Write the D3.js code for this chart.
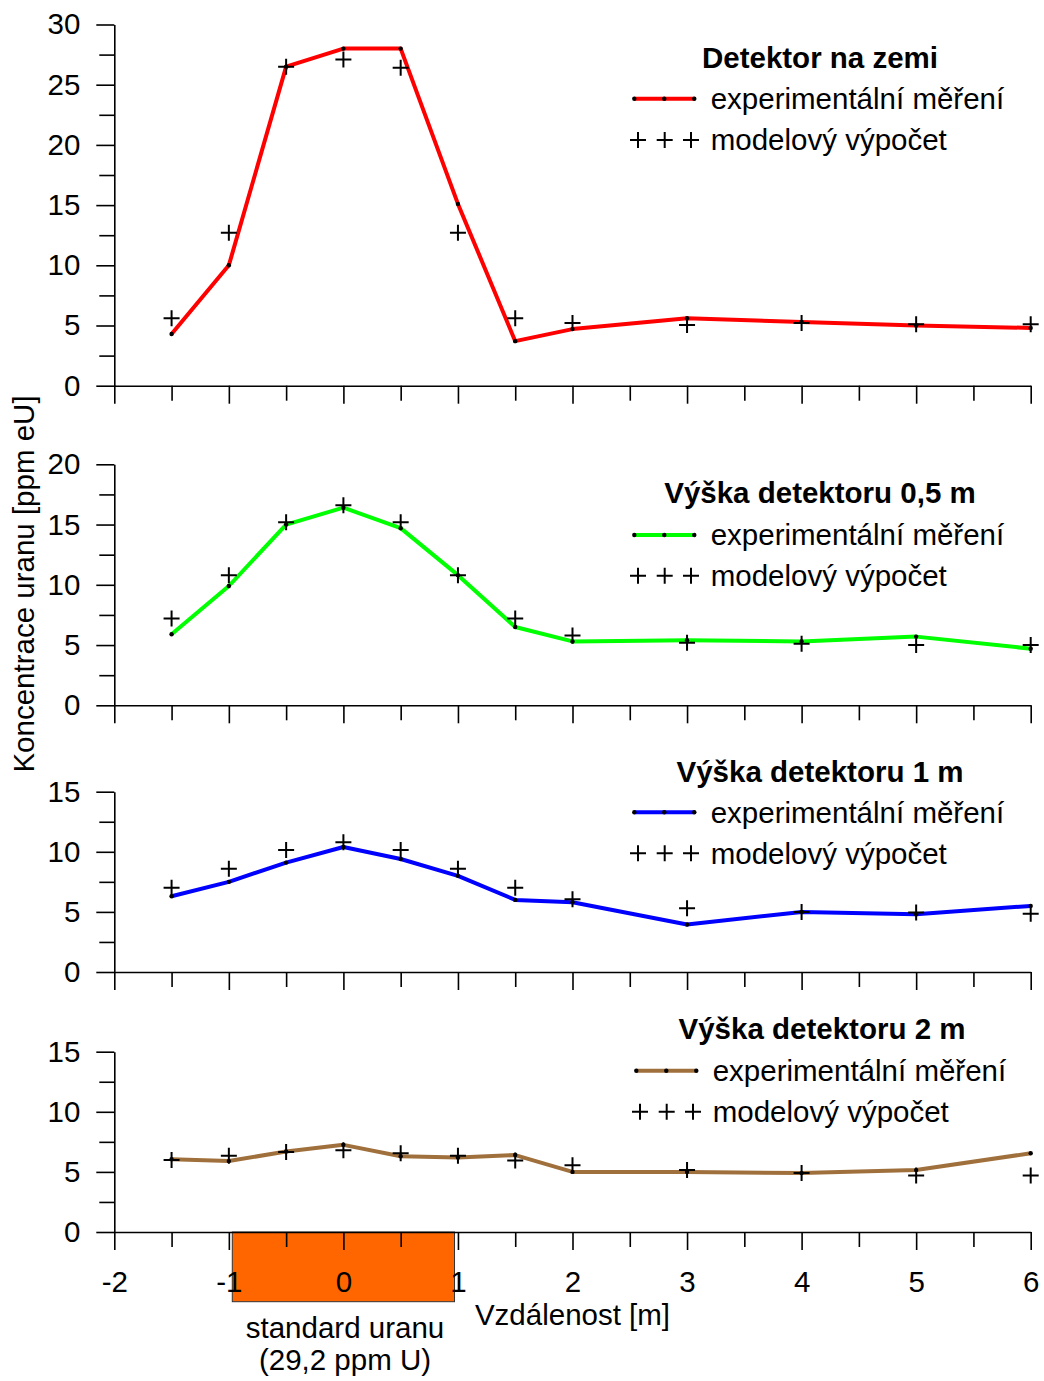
<!DOCTYPE html>
<html>
<head>
<meta charset="utf-8">
<script src="https://cdn.jsdelivr.net/npm/d3@7"></script>
<style>
  body { margin: 0; background: #fff; }
  svg text { font-family: "Liberation Sans", Arial, sans-serif; fill: #000; }
</style>
</head>
<body>
<svg id="chart" width="1044" height="1381"></svg>
<script>
// Distance of the detector from the centre of the uranium standard [m]
const distances = [-1.5, -1, -0.5, 0, 0.5, 1, 1.5, 2, 3, 4, 5, 6];

// Detector on the ground
const measuredGround = [4.3, 10.0, 26.5, 28.0, 28.0, 15.1, 3.7, 4.7, 5.6, 5.3, 5.0, 4.8];
const modelGround    = [5.6, 12.7, 26.5, 27.1, 26.4, 12.7, 5.6, 5.2, 5.05, 5.2, 5.1, 5.1];

// Detector height 0.5 m
const measured05 = [5.9, 9.9, 15.0, 16.4, 14.7, 10.8, 6.5, 5.3, 5.4, 5.3, 5.7, 4.7];
const model05    = [7.2, 10.8, 15.2, 16.6, 15.2, 10.8, 7.2, 5.8, 5.2, 5.1, 5.0, 5.0];

// Detector height 1 m
const measured1 = [6.3, 7.5, 9.1, 10.4, 9.4, 8.0, 6.0, 5.8, 3.95, 5.0, 4.8, 5.5];
const model1    = [7.0, 8.6, 10.15, 10.8, 10.15, 8.6, 7.0, 6.05, 5.3, 5.0, 4.95, 4.85];

// Detector height 2 m
const measured2 = [6.05, 5.9, 6.7, 7.25, 6.3, 6.2, 6.4, 5.0, 5.0, 4.9, 5.15, 6.55];
const model2    = [6.0, 6.35, 6.65, 6.8, 6.55, 6.35, 5.95, 5.55, 5.15, 4.9, 4.7, 4.7];

const panelTitles = ["Detektor na zemi", "Výška detektoru 0,5 m", "Výška detektoru 1 m", "Výška detektoru 2 m"];
const panelYMax = [30, 20, 15, 15];
const xTickValues = [-2, -1, 0, 1, 2, 3, 4, 5, 6];
const seriesLabels = ["experimentální měření", "modelový výpočet"];
const standardExtent = [-0.97, 0.97];
const standardLabel = ["standard uranu", "(29,2 ppm U)"];
const xAxisTitle = "Vzdálenost [m]";
const yAxisTitle = "Koncentrace uranu [ppm eU]";

// Series per panel
const measuredSeries = [measuredGround, measured05, measured1, measured2];
const modelSeries = [modelGround, model05, model1, model2];

// Panel geometry and styling
const panelLayout = [
  { bottom: 385.7, top: 24.5,   color: "#ff0000", titleY: 67.7,   lineY: 98.7,   plusY: 140,   dx: 0 },
  { bottom: 705.3, top: 464.3,  color: "#00ff00", titleY: 503.3,  lineY: 535,    plusY: 575.7, dx: 0 },
  { bottom: 972,   top: 791.7,  color: "#0000ff", titleY: 781.7,  lineY: 812.3,  plusY: 853.3, dx: 0 },
  { bottom: 1232,  top: 1051.7, color: "#a0703c", titleY: 1039.3, lineY: 1070.7, plusY: 1111.7, dx: 2 }
];

const svg = d3.select("#chart");
const x = d3.scaleLinear().domain([-2, 6]).range([114.3, 1030.7]);
const FS = 29.5;
const plusPath = "M-8,0H8M0,-8V8";

function styleAxis(g) {
  g.selectAll("path.domain").attr("stroke", "#000").attr("stroke-width", 1.6);
  g.selectAll(".tick line").attr("stroke", "#000").attr("stroke-width", 1.6);
  g.selectAll(".tick text").style("font-size", FS + "px").attr("fill", "#000");
}

panelLayout.forEach((p, i) => {
  const y = d3.scaleLinear().domain([0, panelYMax[i]]).range([p.bottom, p.top]);
  const g = svg.append("g");
  const isLast = i === panelLayout.length - 1;

  // uranium standard block under the last axis
  if (isLast) {
    g.append("rect")
      .attr("x", x(standardExtent[0]))
      .attr("y", p.bottom)
      .attr("width", x(standardExtent[1]) - x(standardExtent[0]))
      .attr("height", 69.7)
      .attr("fill", "#ff6600")
      .attr("stroke", "#333")
      .attr("stroke-width", 1);
  }

  // x axis: major ticks at whole metres, minor at half metres
  const xMinor = d3.range(-1.5, 6, 1);
  const gxMinor = g.append("g").attr("transform", `translate(0,${p.bottom})`)
    .call(d3.axisBottom(x).tickValues(xMinor).tickSize(15).tickSizeOuter(0).tickFormat(""));
  gxMinor.select("path.domain").remove();
  styleAxis(gxMinor);
  const gx = g.append("g").attr("transform", `translate(0,${p.bottom})`)
    .call(d3.axisBottom(x).tickValues(xTickValues).tickSize(18).tickSizeOuter(0).tickPadding(21)
      .tickFormat(d => isLast ? d3.format("d")(d).replace("−", "-") : ""));
  styleAxis(gx);

  // y axis: major every 5, minor every 2.5
  const majors = d3.range(0, panelYMax[i] + 0.01, 5);
  const minors = d3.range(2.5, panelYMax[i], 5);
  const gyMinor = g.append("g").attr("transform", `translate(${x(-2)},0)`)
    .call(d3.axisLeft(y).tickValues(minors).tickSize(15).tickSizeOuter(0).tickFormat(""));
  gyMinor.select("path.domain").remove();
  styleAxis(gyMinor);
  const gy = g.append("g").attr("transform", `translate(${x(-2)},0)`)
    .call(d3.axisLeft(y).tickValues(majors).tickSize(18).tickSizeOuter(0).tickPadding(16));
  styleAxis(gy);

  // measured profile
  const pts = distances.map((d, k) => [d, measuredSeries[i][k]]);
  g.append("path")
    .datum(pts)
    .attr("fill", "none")
    .attr("stroke", p.color)
    .attr("stroke-width", 4)
    .attr("stroke-linejoin", "round")
    .attr("d", d3.line().x(d => x(d[0])).y(d => y(d[1])));

  // model calculation markers
  g.selectAll("path.model")
    .data(distances.map((d, k) => [d, modelSeries[i][k]]))
    .join("path")
    .attr("class", "model")
    .attr("transform", d => `translate(${x(d[0])},${y(d[1])})`)
    .attr("d", plusPath)
    .attr("stroke", "#000")
    .attr("stroke-width", 2)
    .attr("fill", "none");

  // measured points
  g.selectAll("circle.meas")
    .data(pts)
    .join("circle")
    .attr("class", "meas")
    .attr("cx", d => x(d[0]))
    .attr("cy", d => y(d[1]))
    .attr("r", 2.2)
    .attr("fill", "#000");

  // legend
  const lg = g.append("g").attr("transform", `translate(${p.dx},0)`);
  lg.append("text")
    .attr("x", 820).attr("y", p.titleY)
    .attr("text-anchor", "middle")
    .style("font-size", FS + "px").style("font-weight", "bold")
    .text(panelTitles[i]);
  lg.append("line")
    .attr("x1", 634.3).attr("x2", 694.3)
    .attr("y1", p.lineY).attr("y2", p.lineY)
    .attr("stroke", p.color).attr("stroke-width", 4);
  lg.selectAll("circle.leg")
    .data([634.3, 664.3, 694.3])
    .join("circle")
    .attr("class", "leg")
    .attr("cx", d => d).attr("cy", p.lineY).attr("r", 2.2).attr("fill", "#000");
  lg.append("text")
    .attr("x", 710.7).attr("y", p.lineY).attr("dy", "0.35em")
    .style("font-size", FS + "px")
    .text(seriesLabels[0]);
  lg.selectAll("path.leg")
    .data([638, 664.7, 691])
    .join("path")
    .attr("class", "leg")
    .attr("transform", d => `translate(${d},${p.plusY})`)
    .attr("d", plusPath)
    .attr("stroke", "#000").attr("stroke-width", 2);
  lg.append("text")
    .attr("x", 710.7).attr("y", p.plusY).attr("dy", "0.35em")
    .style("font-size", FS + "px")
    .text(seriesLabels[1]);
});

// axis titles
svg.append("text")
  .attr("x", x(2)).attr("y", 1325)
  .attr("text-anchor", "middle")
  .style("font-size", FS + "px")
  .text(xAxisTitle);

svg.append("text")
  .attr("transform", "translate(34,584) rotate(-90)")
  .attr("text-anchor", "middle")
  .style("font-size", FS + "px")
  .text(yAxisTitle);

// label of the uranium standard
svg.append("text")
  .attr("x", 345).attr("y", 1338.3)
  .attr("text-anchor", "middle")
  .style("font-size", FS + "px")
  .text(standardLabel[0]);
svg.append("text")
  .attr("x", 345).attr("y", 1370)
  .attr("text-anchor", "middle")
  .style("font-size", FS + "px")
  .text(standardLabel[1]);
</script>
</body>
</html>
